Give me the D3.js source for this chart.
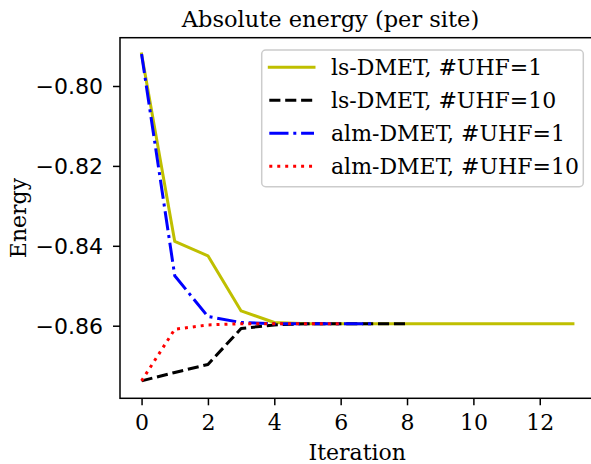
<!DOCTYPE html>
<html><head><meta charset="utf-8">
<script src="https://cdn.jsdelivr.net/npm/d3@7"></script>
<style>body{margin:0;background:#fff}</style>
</head><body>
<svg id="c" width="591" height="464"></svg>
<script>
// ---- data ----
const seriesNames = ["ls-DMET, #UHF=1", "ls-DMET, #UHF=10", "alm-DMET, #UHF=1", "alm-DMET, #UHF=10"];
const lsUHF1  = [-0.7920, -0.8389, -0.8425, -0.8563, -0.8592, -0.8595, -0.8595, -0.8595, -0.8595, -0.8595, -0.8595, -0.8595, -0.8595, -0.8595];
const lsUHF10 = [-0.8738, -0.8717, -0.8697, -0.8607, -0.8598, -0.8595, -0.8595, -0.8595, -0.8595];
const almUHF1 = [-0.7920, -0.8475, -0.8577, -0.8592, -0.8595, -0.8595, -0.8595, -0.8595];
const almUHF10 = [-0.8738, -0.8609, -0.8598, -0.8595, -0.8595, -0.8595, -0.8595];
const xTicks = [0, 2, 4, 6, 8, 10, 12];
const yTicks = [-0.86, -0.84, -0.82, -0.80];
const titleText = "Absolute energy (per site)";
const xLabel = "Iteration";
const yLabel = "Energy";

// ---- styles ----
const styles = [
  {color: "#bfbf00", dash: null},
  {color: "#000000", dash: "11.1,4.8"},
  {color: "#0000ff", dash: "19.2,4.8,3,4.8"},
  {color: "#ff0000", dash: "3,4.95"}
];
const allSeries = [lsUHF1, lsUHF10, almUHF1, almUHF10];

const L = 120, R = 594.5, T = 37.7, B = 398.3;
const serif = "'DejaVu Serif', serif";
const sans = "'DejaVu Sans', sans-serif";
const fs = 22;

const svg = d3.select("#c");
const x = d3.scaleLinear().domain([-0.65, 13.65]).range([L, R]);
const y = d3.scaleLinear().domain([-0.87817, -0.78791]).range([B, T]);

// lines
const line = d3.line().x((d, i) => x(i)).y(d => y(d));
allSeries.forEach((s, k) => {
  svg.append("path")
    .attr("d", line(s))
    .attr("fill", "none")
    .attr("stroke", styles[k].color)
    .attr("stroke-width", 3)
    .attr("stroke-linejoin", "round")
    .attr("stroke-linecap", styles[k].dash ? "butt" : "square")
    .attr("stroke-dasharray", styles[k].dash);
});

// axes
const xAxis = svg.append("g").attr("transform", `translate(0,${B})`)
  .call(d3.axisBottom(x).tickValues(xTicks).tickFormat(d3.format("d")).tickSize(7).tickSizeOuter(0));
xAxis.select(".domain").remove();
xAxis.selectAll(".tick line").attr("stroke", "#000").attr("stroke-width", 1.5);
xAxis.selectAll(".tick text").attr("font-family", serif).attr("font-size", fs)
  .attr("fill", "#000").attr("y", 31.7).attr("dy", 0);

const yAxis = svg.append("g").attr("transform", `translate(${L},0)`)
  .call(d3.axisLeft(y).tickValues(yTicks).tickFormat(d => "\u2212" + Math.abs(d).toFixed(2)).tickSize(7).tickSizeOuter(0));
yAxis.select(".domain").remove();
yAxis.selectAll(".tick line").attr("stroke", "#000").attr("stroke-width", 1.5);
yAxis.selectAll(".tick text").attr("font-family", sans).attr("font-size", fs)
  .attr("fill", "#000").attr("x", -17).attr("dy", "0.36em");

// spines
svg.append("rect").attr("x", L).attr("y", T).attr("width", R - L).attr("height", B - T)
  .attr("fill", "none").attr("stroke", "#000").attr("stroke-width", 1.5);

// labels
svg.append("text").attr("x", 330.5).attr("y", 27).attr("text-anchor", "middle")
  .attr("font-family", serif).attr("font-size", 22.5).text(titleText);
svg.append("text").attr("x", (L + R) / 2).attr("y", 459.5).attr("text-anchor", "middle")
  .attr("font-family", serif).attr("font-size", fs).text(xLabel);
svg.append("text").attr("transform", `translate(25.5,${(T + B) / 2}) rotate(-90)`).attr("text-anchor", "middle")
  .attr("font-family", serif).attr("font-size", fs).text(yLabel);

// legend
const lg = svg.append("g");
lg.append("rect").attr("x", 261.7).attr("y", 50).attr("width", 583.3 - 261.7).attr("height", 186.7 - 50)
  .attr("rx", 4).attr("fill", "#fff").attr("fill-opacity", 0.8)
  .attr("stroke", "#cccccc").attr("stroke-width", 1.5);
const rowY = [67.3, 100.3, 133.3, 166.3];
seriesNames.forEach((n, k) => {
  lg.append("line").attr("x1", 269.3).attr("x2", 314).attr("y1", rowY[k]).attr("y2", rowY[k])
    .attr("stroke", styles[k].color).attr("stroke-width", 3)
    .attr("stroke-linecap", styles[k].dash ? "butt" : "square")
    .attr("stroke-dasharray", styles[k].dash);
  lg.append("text").attr("x", 331).attr("y", rowY[k]).attr("dy", "0.37em")
    .attr("font-family", serif).attr("font-size", fs).text(n);
});
</script>
</body></html>
